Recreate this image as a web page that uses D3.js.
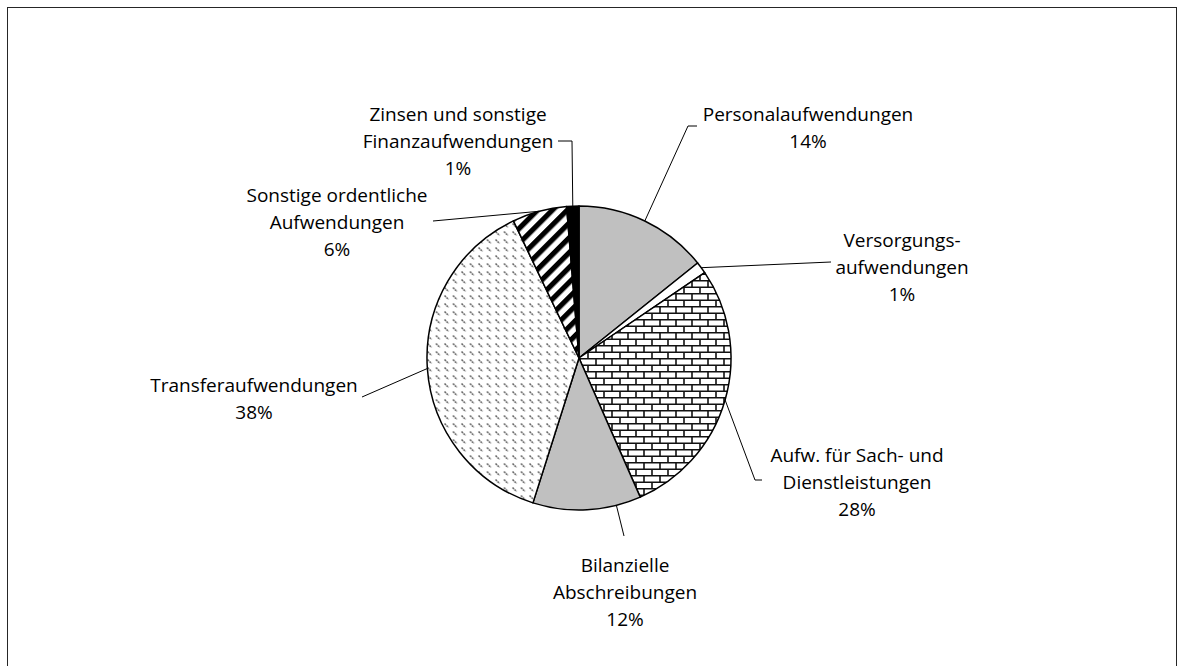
<!DOCTYPE html>
<html>
<head>
<meta charset="utf-8">
<script src="https://cdn.jsdelivr.net/npm/d3@7"></script>
<style>
  body { margin: 0; background: #fff; }
  .label { font-family: "Open Sans", sans-serif; font-size: 19px; fill: #000; }
</style>
</head>
<body>
<script>
// slices, clockwise from 12 o'clock
let categories = ["Personalaufwendungen", "Versorgungsaufwendungen", "Aufw. für Sach- und Dienstleistungen",
                  "Bilanzielle Abschreibungen", "Transferaufwendungen", "Sonstige ordentliche Aufwendungen",
                  "Zinsen und sonstige Finanzaufwendungen"];
let values = [14.25, 1.25, 27.9, 11.5, 38.0, 5.8, 1.3];
let labelLines = [["Personalaufwendungen"], ["Versorgungs-", "aufwendungen"], ["Aufw. für Sach- und", "Dienstleistungen"],
                  ["Bilanzielle", "Abschreibungen"], ["Transferaufwendungen"], ["Sonstige ordentliche", "Aufwendungen"],
                  ["Zinsen und sonstige", "Finanzaufwendungen"]];
let fills = ["url(#gray)", "#fff", "url(#brick)", "url(#gray)", "url(#dash)", "url(#stripe)", "#000"];

// label placement: text centre x, y of first line, where the leader meets the label, and where it leaves the slice (0..1 along the arc)
let labelPos = [
  {x: 808, y: 114, elbow: [[697, 126], [688, 126]], at: 0.5},
  {x: 902, y: 240, elbow: [[831, 262]], at: 0.5},
  {x: 857, y: 455, elbow: [[762, 480], [755, 480]], at: 0.5},
  {x: 625, y: 565, elbow: [[624, 536]], at: 0.23},
  {x: 254, y: 385, elbow: [[362, 397]], at: 0.5},
  {x: 337, y: 195, elbow: [[433, 221]], at: 0.5},
  {x: 458, y: 114, elbow: [[558, 141], [572, 141]], at: 0.5}
];

let width = 1185, height = 666;
let cx = 579, cy = 358, r = 152;
let lineH = 27;

let svg = d3.select("body").append("svg")
            .attr("width", width)
            .attr("height", height);

let defs = svg.append("defs");

defs.append("pattern").attr("id", "gray")
    .attr("patternUnits", "userSpaceOnUse").attr("width", 4).attr("height", 4)
    .append("rect").attr("width", 4).attr("height", 4).attr("fill", "#c0c0c0");

// horizontal brick
let brick = defs.append("pattern").attr("id", "brick")
    .attr("patternUnits", "userSpaceOnUse").attr("width", 16).attr("height", 13);
brick.append("rect").attr("width", 16).attr("height", 13).attr("fill", "#fff");
brick.append("path")
    .attr("d", "M0,0.75H16M0,7.25H16M1,0V6.5M9,6.5V13")
    .attr("stroke", "#111").attr("stroke-width", 1.6).attr("fill", "none");

// small downward diagonal dashes in rows
let dash = defs.append("pattern").attr("id", "dash")
    .attr("patternUnits", "userSpaceOnUse").attr("width", 8.5).attr("height", 8);
dash.append("rect").attr("width", 8.5).attr("height", 8).attr("fill", "#fff");
dash.append("path")
    .attr("d", "M1.5,1.5L5.5,5.5")
    .attr("stroke", "#5c5c5c").attr("stroke-width", 1.5).attr("stroke-dasharray", "2,0.7").attr("fill", "none");

// wide upward diagonal
let stripe = defs.append("pattern").attr("id", "stripe")
    .attr("patternUnits", "userSpaceOnUse").attr("width", 10.5).attr("height", 10.5)
    .attr("patternTransform", "rotate(45)");
stripe.append("rect").attr("width", 10.5).attr("height", 10.5).attr("fill", "#fff");
stripe.append("rect").attr("width", 5.2).attr("height", 10.5).attr("fill", "#000");

// chart frame
svg.append("rect")
   .attr("x", 7.5).attr("y", 7.5)
   .attr("width", 1169).attr("height", 700)
   .attr("fill", "none").attr("stroke", "#262626").attr("stroke-width", 1);

let pie = d3.pie().sort(null).value(d => d)(values);
let arc = d3.arc().innerRadius(0).outerRadius(r);

let g = svg.append("g").attr("transform", "translate(" + cx + "," + cy + ")");

g.selectAll("path.slice").data(pie).enter()
  .append("path")
  .attr("class", "slice")
  .attr("d", arc)
  .attr("fill", (d, i) => fills[i])
  .attr("stroke", "#000")
  .attr("stroke-width", 1.5)
  .attr("stroke-linejoin", "round");

// leader lines
let leader = d3.line();
svg.selectAll("path.leader").data(pie).enter()
  .append("path")
  .attr("class", "leader")
  .attr("d", function(d, i) {
      let a = d.startAngle + (d.endAngle - d.startAngle) * labelPos[i].at;
      let start = [cx + r * Math.sin(a), cy - r * Math.cos(a)];
      let pts = labelPos[i].elbow.concat([start]);
      return leader(pts);
  })
  .attr("fill", "none")
  .attr("stroke", "#000")
  .attr("stroke-width", 1);

// labels: name lines + percentage
let labels = svg.selectAll("text.label").data(pie).enter()
  .append("text")
  .attr("class", "label")
  .attr("text-anchor", "middle");

labels.each(function(d, i) {
    let t = d3.select(this);
    let lines = labelLines[i].concat([Math.round(d.value) + "%"]);
    lines.forEach(function(s, k) {
        t.append("tspan")
         .attr("x", labelPos[i].x)
         .attr("y", labelPos[i].y + k * lineH)
         .attr("dy", "0.35em")
         .text(s);
    });
});
</script>
</body>
</html>
